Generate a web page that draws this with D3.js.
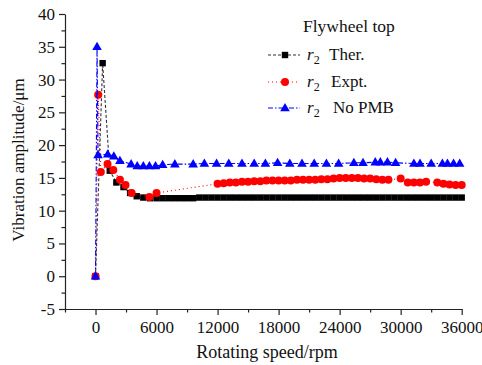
<!DOCTYPE html>
<html><head><meta charset="utf-8">
<script src="https://cdn.jsdelivr.net/npm/d3@7/dist/d3.min.js"></script>
<style>body{margin:0;background:#fff}svg{display:block}</style>
</head><body><svg id="c" width="482" height="365"></svg>
<script>
// data
const therSpeed = [0,700,1400,2050,2750,3400,4050,4700,5350,6000,6600,7200,7800,8400,9000,9600,10200,10800,11400,12000,12600,13200,13800,14400,15000,15600,16200,16800,17400,18000,18600,19200,19800,20400,21000,21600,22200,22800,23400,24000,24600,25200,25800,26400,27000,27600,28200,28800,29400,30000,30600,31200,31800,32400,33000,33600,34200,34800,35400,36000];
const therVal   = [0,32.5,16.1,14.3,13.6,12.7,12.2,12.0,11.9,11.9,11.9,11.9,11.9,11.9,11.9,11.9,12.0,12.0,12.0,12.0,12.0,12.0,12.0,12.0,12.0,12.0,12.0,12.0,12.0,12.0,12.0,12.0,12.0,12.0,12.0,12.0,12.0,12.0,12.0,12.0,12.0,12.0,12.0,12.0,12.0,12.0,12.0,12.0,12.0,12.0,12.0,12.0,12.0,12.0,12.0,12.0,12.0,12.0,12.0,12.0];
const exptSpeed = [0,260,520,1180,1750,2400,2950,3550,5300,6000,12000,12600,13200,13800,14400,15000,15600,16200,16800,17400,18000,18600,19200,19800,20400,21000,21600,22200,22800,23400,24000,24600,25200,25800,26400,27000,27600,28200,28800,30000,30700,31300,31900,32500,33600,34200,34800,35400,36000];
const exptVal   = [0,27.7,15.9,17.1,16.2,14.7,13.9,12.7,12.1,12.7,14.1,14.2,14.3,14.3,14.4,14.4,14.5,14.5,14.6,14.6,14.6,14.6,14.6,14.7,14.7,14.7,14.7,14.8,14.8,14.9,15.0,15.0,15.0,15.0,14.9,14.9,14.8,14.7,14.7,14.9,14.3,14.3,14.3,14.4,14.3,14.1,14.0,13.9,13.9];
const noPmbSpeed = [0,150,250,1200,1800,2400,3500,4100,4700,5300,5900,6600,7800,9600,10700,11900,13100,14400,15600,16700,17900,19100,20300,21500,22700,23900,25400,26300,27500,28000,28700,29500,31300,31900,33000,34100,34600,35200,35800];
const noPmbVal   = [0,35.0,18.5,18.6,18.3,17.6,17.1,16.8,16.8,16.8,16.8,17.0,17.1,17.1,17.2,17.2,17.2,17.2,17.2,17.2,17.3,17.2,17.2,17.2,17.2,17.2,17.3,17.3,17.4,17.4,17.4,17.3,17.2,17.2,17.2,17.2,17.2,17.2,17.2];
const xTicks = [0,6000,12000,18000,24000,30000,36000];
const yTicks = [-5,0,5,10,15,20,25,30,35,40];
const seriesNames = ["Ther.","Expt.","No PMB"];

const FONT = "'Liberation Serif', 'Times New Roman', Times, 'DejaVu Serif', serif";
const svg = d3.select("#c");
const x = d3.scaleLinear().domain([-3000,36000]).range([65,461.7]);
const y = d3.scaleLinear().domain([-5,40]).range([309,14]);
const fmt = d => String(d);

// minor ticks
const xMinor = d3.range(-3000,36001,3000).filter(v=>!xTicks.includes(v));
const yMinor = d3.range(-5,40.01,2.5).filter(v=>!yTicks.includes(v));
svg.append("g").attr("transform","translate(0,309)")
  .call(d3.axisBottom(x).tickValues(xMinor).tickSize(3.5).tickFormat(""))
  .call(g=>g.select(".domain").remove());
svg.append("g").attr("transform","translate(65,0)")
  .call(d3.axisLeft(y).tickValues(yMinor).tickSize(3.5).tickFormat(""))
  .call(g=>g.select(".domain").remove());

svg.append("g").attr("transform","translate(0,309)")
  .call(d3.axisBottom(x).tickValues(xTicks).tickSize(6).tickSizeOuter(0).tickPadding(6).tickFormat(fmt));
svg.append("g").attr("transform","translate(65,0)")
  .call(d3.axisLeft(y).tickValues(yTicks).tickSize(6).tickSizeOuter(0).tickPadding(4).tickFormat(fmt));
svg.selectAll("g").attr("font-family",FONT);
svg.selectAll(".tick text").attr("font-size",17).attr("fill","#111");
svg.selectAll(".domain, .tick line").attr("stroke","#222").attr("stroke-width",1.2);

svg.append("text").attr("x",267).attr("y",358).attr("text-anchor","middle").attr("font-family",FONT).attr("font-size",18).attr("fill","#111").text("Rotating speed/rpm");
svg.append("text").attr("transform","translate(24,160) rotate(-90)").attr("text-anchor","middle").attr("font-family",FONT).attr("font-size",17).attr("fill","#111").text("Vibration amplitude/\u03bcm");

const line = d3.line().x(d=>x(d[0])).y(d=>y(d[1]));
const ther = therSpeed.map((s,i)=>[s,therVal[i]]);
const expt = exptSpeed.map((s,i)=>[s,exptVal[i]]);
const nopmb = noPmbSpeed.map((s,i)=>[s,noPmbVal[i]]);

const styles = [
  {data:ther, color:"#000", lineColor:"#333", dash:"3,2", marker:"square"},
  {data:expt, color:"#ff0000", lineColor:"#ff0000", dash:"1,3", marker:"circle"},
  {data:nopmb, color:"#0000ff", lineColor:"#0000ff", dash:"5,2,1.5,2", marker:"triangle"}
];
function drawMarker(g, type, color, cx, cy){
  if(type==="square") g.append("rect").attr("x",cx-3.2).attr("y",cy-3.2).attr("width",6.4).attr("height",6.4).attr("fill",color);
  else if(type==="circle") g.append("circle").attr("cx",cx).attr("cy",cy).attr("r",4).attr("fill",color);
  else g.append("path").attr("d",d3.symbol(d3.symbolTriangle,40)()).attr("transform",`translate(${cx},${cy+0.5})`).attr("fill",color);
}
styles.forEach(st=>{
  svg.append("path").datum(st.data).attr("d",line).attr("fill","none").attr("stroke",st.lineColor).attr("stroke-width",1.1).attr("stroke-dasharray",st.dash);
  const g = svg.append("g");
  st.data.forEach(d=>drawMarker(g, st.marker, st.color, x(d[0]), y(d[1])));
});

// legend
svg.append("text").attr("x",303).attr("y",32).attr("font-family",FONT).attr("font-size",17.5).attr("fill","#111").text("Flywheel top");
const rowsY = [55,82,108];
const textX = [329,331,333];
styles.forEach((st,i)=>{
  const cy = rowsY[i];
  svg.append("line").attr("x1",268).attr("x2",300).attr("y1",cy).attr("y2",cy).attr("stroke",st.lineColor).attr("stroke-width",1.1).attr("stroke-dasharray",st.dash);
  const g = svg.append("g");
  drawMarker(g, st.marker, st.color, 285, cy);
  const t = svg.append("text").attr("x",307).attr("y",cy+5).attr("font-family",FONT).attr("font-size",17).attr("fill","#111");
  t.append("tspan").attr("font-style","italic").text("r");
  t.append("tspan").attr("font-size",12).attr("dy",4).text("2");
  svg.append("text").attr("x",textX[i]).attr("y",cy+5).attr("font-family",FONT).attr("font-size",17).attr("fill","#111").text(seriesNames[i]);
});
</script></body></html>
